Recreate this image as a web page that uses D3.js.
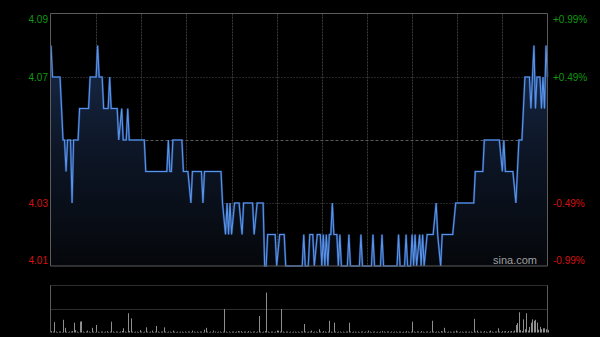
<!DOCTYPE html>
<html>
<head>
<meta charset="utf-8">
<script src="https://cdn.jsdelivr.net/npm/d3@7"></script>
<style>
  html, body { margin: 0; padding: 0; background: #000; }
  #chart { width: 600px; height: 337px; }
  .axis-label { font-family: Arial, "Liberation Sans", sans-serif; font-size: 10px; }
</style>
</head>
<body>
<div id="chart"></div>
<script>
const prevClose = 4.05;
const priceDomain = [4.01, 4.09];
const tradingMinutes = 330;

const yTicks = [4.09, 4.07, 4.03, 4.01];
const pctLabels = ["+0.99%", "+0.49%", "-0.49%", "-0.99%"];

// minute index (9:30 = 0, lunch skipped) and last price at that minute
const priceMinutes = [
  0, 1, 6, 8, 9, 10, 11, 13, 14, 15, 18, 19, 25, 26, 30, 31, 32, 34, 35, 38,
  39, 40, 44, 45, 47, 48, 50, 51, 52, 62, 63, 77, 78, 79, 80, 81, 87, 88, 91, 93,
  94, 100, 101, 102, 113, 114, 116, 117, 118, 119, 120, 122, 125, 127, 128, 134, 135, 137, 141, 142,
  143, 144, 149, 150, 152, 155, 156, 167, 168, 169, 171, 172, 174, 175, 177, 179, 180, 181, 182, 183,
  184, 185, 186, 187, 188, 190, 191, 192, 193, 197, 198, 199, 205, 206, 207, 213, 214, 215, 219, 220,
  221, 230, 231, 232, 235, 236, 237, 239, 240, 241, 242, 243, 245, 246, 247, 248, 250, 254, 256, 257,
  259, 260, 267, 269, 281, 282, 287, 288, 298, 300, 301, 302, 307, 309, 311, 313, 314, 315, 318, 319,
  321, 322, 323, 325, 326, 327, 328, 329, 330
];
const prices = [
  4.08, 4.07, 4.07, 4.05, 4.05, 4.04, 4.05, 4.05, 4.03, 4.05, 4.05, 4.06, 4.06, 4.07, 4.07, 4.08, 4.07, 4.07, 4.06, 4.06,
  4.07, 4.06, 4.06, 4.05, 4.06, 4.05, 4.05, 4.06, 4.05, 4.05, 4.04, 4.04, 4.05, 4.04, 4.04, 4.05, 4.05, 4.04, 4.04, 4.03,
  4.04, 4.04, 4.03, 4.04, 4.04, 4.03, 4.02, 4.03, 4.02, 4.03, 4.02, 4.03, 4.03, 4.02, 4.03, 4.03, 4.02, 4.03, 4.03, 4.01,
  4.01, 4.02, 4.02, 4.01, 4.02, 4.02, 4.01, 4.01, 4.02, 4.01, 4.01, 4.02, 4.02, 4.01, 4.02, 4.02, 4.01, 4.02, 4.01, 4.02,
  4.01, 4.02, 4.02, 4.03, 4.02, 4.02, 4.01, 4.02, 4.01, 4.01, 4.02, 4.01, 4.01, 4.02, 4.01, 4.01, 4.02, 4.01, 4.01, 4.02,
  4.01, 4.01, 4.02, 4.01, 4.01, 4.02, 4.01, 4.01, 4.02, 4.01, 4.02, 4.01, 4.02, 4.01, 4.02, 4.01, 4.02, 4.02, 4.03, 4.02,
  4.01, 4.02, 4.02, 4.03, 4.03, 4.04, 4.04, 4.05, 4.05, 4.04, 4.05, 4.04, 4.04, 4.03, 4.05, 4.05, 4.06, 4.07, 4.07, 4.06,
  4.08, 4.06, 4.07, 4.07, 4.06, 4.07, 4.06, 4.08, 4.07
];

// volume per minute, 0..330 (panel top = 100)
const volumes = [
  3, 2, 22, 2, 1, 2, 2, 1, 27, 10, 2, 1, 2, 2, 3, 21, 5, 2, 1, 23, 24, 2, 1, 2, 4, 2, 1, 10, 2, 1,
  16, 2, 1, 2, 2, 1, 2, 3, 1, 2, 23, 2, 1, 2, 2, 1, 2, 3, 9, 2, 1, 41, 3, 30, 2, 1, 2, 2, 1, 5,
  2, 1, 2, 11, 2, 1, 2, 4, 1, 2, 14, 2, 1, 2, 2, 11, 2, 1, 2, 2, 1, 4, 2, 1, 2, 1, 2, 2, 1, 2,
  1, 2, 2, 1, 4, 2, 1, 2, 1, 2, 2, 1, 6, 10, 2, 1, 2, 1, 4, 2, 1, 2, 2, 1, 2, 50, 2, 1, 2, 1,
  2, 2, 1, 2, 3, 2, 3, 1, 2, 2, 1, 3, 2, 1, 2, 2, 1, 2, 35, 2, 1, 2, 3, 85, 2, 1, 2, 2, 1, 2,
  4, 4, 2, 50, 2, 1, 2, 2, 1, 2, 1, 2, 2, 1, 2, 1, 2, 2, 18, 2, 1, 2, 2, 4, 1, 2, 2, 1, 7, 2,
  1, 3, 2, 1, 2, 25, 2, 1, 21, 2, 1, 2, 2, 1, 2, 1, 2, 2, 21, 2, 1, 2, 2, 1, 2, 1, 2, 2, 1, 2,
  1, 4, 2, 1, 2, 2, 1, 2, 1, 2, 3, 2, 1, 2, 2, 1, 2, 1, 2, 2, 1, 2, 2, 1, 2, 1, 3, 2, 1, 2,
  23, 2, 1, 2, 2, 1, 3, 2, 1, 2, 2, 1, 2, 25, 2, 1, 2, 2, 1, 3, 2, 10, 2, 1, 2, 2, 1, 2, 2, 4,
  2, 1, 2, 2, 1, 2, 2, 1, 2, 2, 1, 29, 2, 4, 1, 2, 2, 1, 3, 2, 1, 2, 4, 2, 1, 2, 2, 9, 2, 1,
  3, 2, 3, 1, 3, 2, 3, 2, 4, 16, 20, 43, 5, 3, 28, 7, 41, 4, 12, 21, 28, 25, 27, 21, 6, 12, 7, 9, 9, 7,
  5
];

function renderIntradayChart() {
  const width = 600;
  const height = 337;
  const left = 50.5;
  const right = 547.5;
  const priceTop = 13.5;
  const priceBottom = 266;
  const volTop = 285.5;
  const volBottom = 332.5;

  const svg = d3.select("#chart")
    .append("svg")
    .attr("width", width)
    .attr("height", height)
    .style("background", "#000");

  const x = d3.scaleLinear().domain([0, tradingMinutes]).range([left + 0.5, right]);
  const y = d3.scaleLinear().domain(priceDomain).range([priceBottom, priceTop + 0.5]);
  const yVol = d3.scaleLinear().domain([0, 100]).range([volBottom, volTop]);

  const data = priceMinutes.map(function (t, i) {
    return { t: t, price: prices[i] };
  });

  const defs = svg.append("defs");
  const gradient = defs.append("linearGradient")
    .attr("id", "areaGradient")
    .attr("gradientUnits", "userSpaceOnUse")
    .attr("x1", 0).attr("x2", 0)
    .attr("y1", priceTop).attr("y2", priceBottom);
  gradient.append("stop").attr("offset", "0%").attr("stop-color", "#1b2f52");
  gradient.append("stop").attr("offset", "55%").attr("stop-color", "#0d1626");
  gradient.append("stop").attr("offset", "100%").attr("stop-color", "#05070b");

  // vertical grid every 30 minutes
  const gridMinutes = d3.range(30, tradingMinutes, 30);
  svg.append("g")
    .selectAll("line")
    .data(gridMinutes)
    .join("line")
    .attr("x1", function (d) { return Math.round(x(d)) + 0.5; })
    .attr("x2", function (d) { return Math.round(x(d)) + 0.5; })
    .attr("y1", priceTop)
    .attr("y2", priceBottom)
    .attr("stroke", "#3a3a3a")
    .attr("stroke-dasharray", "2,1");

  // horizontal grid
  svg.append("g")
    .selectAll("line")
    .data(yTicks.slice(1, 3))
    .join("line")
    .attr("x1", left)
    .attr("x2", right)
    .attr("y1", function (d) { return Math.round(y(d)) + 0.5; })
    .attr("y2", function (d) { return Math.round(y(d)) + 0.5; })
    .attr("stroke", "#4a4a4a")
    .attr("stroke-dasharray", "1,2");

  svg.append("line")
    .attr("x1", left)
    .attr("x2", right)
    .attr("y1", Math.round(y(prevClose)) + 0.5)
    .attr("y2", Math.round(y(prevClose)) + 0.5)
    .attr("stroke", "#5a5a5a")
    .attr("stroke-dasharray", "3,2");

  const area = d3.area()
    .x(function (d) { return x(d.t); })
    .y0(priceBottom)
    .y1(function (d) { return y(d.price); });

  const line = d3.line()
    .x(function (d) { return x(d.t); })
    .y(function (d) { return y(d.price); });

  svg.append("path")
    .datum(data)
    .attr("d", area)
    .attr("fill", "url(#areaGradient)");

  svg.append("path")
    .datum(data)
    .attr("d", line)
    .attr("fill", "none")
    .attr("stroke", "#2d5fae")
    .attr("stroke-width", 2.2)
    .attr("stroke-opacity", 0.6);

  svg.append("path")
    .datum(data)
    .attr("d", line)
    .attr("fill", "none")
    .attr("stroke", "#5a93ea")
    .attr("stroke-width", 1.1);

  // price panel frame
  svg.append("path")
    .attr("d", `M${left},${priceBottom}V${priceTop}H${right}V${priceBottom}H${left}`)
    .attr("fill", "none")
    .attr("stroke", "#5c5c5c");

  svg.append("text")
    .attr("x", 537)
    .attr("y", 264)
    .attr("text-anchor", "end")
    .attr("fill", "#a0a0a0")
    .style("font-family", "Arial, 'Liberation Sans', sans-serif")
    .style("font-size", "11px")
    .text("sina.com");

  // axis labels
  const labelShift = [5, 0, 0, -6];
  svg.append("g")
    .selectAll("text")
    .data(yTicks)
    .join("text")
    .attr("class", "axis-label")
    .attr("x", 48)
    .attr("y", function (d, i) { return y(d) + labelShift[i] + 3.5; })
    .attr("text-anchor", "end")
    .attr("fill", function (d) { return d > prevClose ? "#0f9a0f" : "#d41010"; })
    .text(function (d) { return d.toFixed(2); });

  svg.append("g")
    .selectAll("text")
    .data(yTicks)
    .join("text")
    .attr("class", "axis-label")
    .attr("x", 553)
    .attr("y", function (d, i) { return y(d) + labelShift[i] + 3.5; })
    .attr("fill", function (d) { return d > prevClose ? "#0f9a0f" : "#d41010"; })
    .text(function (d, i) { return pctLabels[i]; });

  // volume panel
  const volMid = (volTop + volBottom) / 2;
  svg.append("g")
    .selectAll("line")
    .data([volTop, Math.round(volMid) + 0.5])
    .join("line")
    .attr("x1", left)
    .attr("x2", right)
    .attr("y1", function (d) { return d; })
    .attr("y2", function (d) { return d; })
    .attr("stroke", "#5a5a5a")
    .attr("stroke-dasharray", "1,1");

  svg.append("g")
    .selectAll("rect")
    .data(volumes)
    .join("rect")
    .attr("x", function (d, i) { return Math.round(x(i)); })
    .attr("width", 1)
    .attr("y", function (d) { return yVol(d); })
    .attr("height", function (d) { return volBottom - yVol(d); })
    .attr("fill", "#8e8e8e");

  svg.append("line")
    .attr("x1", left).attr("x2", left)
    .attr("y1", volTop).attr("y2", volBottom)
    .attr("stroke", "#5c5c5c");

  svg.append("line")
    .attr("x1", right).attr("x2", right)
    .attr("y1", volTop).attr("y2", volBottom)
    .attr("stroke", "#5c5c5c");
}

renderIntradayChart();
</script>
</body>
</html>
